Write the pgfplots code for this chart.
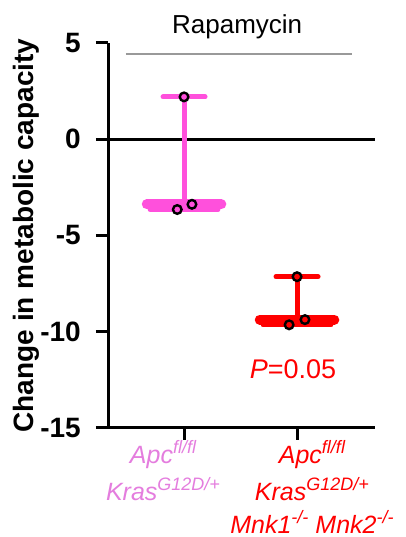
\documentclass[border=0pt]{standalone}
\usepackage{pgfplots}
\pgfplotsset{compat=1.18}
\usepackage{fontspec}
\setmainfont{Liberation Sans}
\definecolor{mag}{RGB}{255,80,220}
\definecolor{maglab}{RGB}{228,125,222}
\definecolor{myred}{RGB}{255,0,0}
\newcommand\sups[1]{\raisebox{9.5pt}{\fontsize{18}{18}\selectfont #1}}
\begin{document}
\begin{tikzpicture}[x=1pt,y=1pt]
\path[use as bounding box] (0,0) rectangle (405,537);
\begin{axis}[
  at={(108pt,109pt)}, anchor=south west,
  scale only axis, width=267pt, height=385pt,
  xmin=0.327, xmax=2.69, ymin=-15, ymax=5,
  axis x line*=bottom, axis y line*=left,
  axis line style={line width=3pt, black},
  xtick={1,2}, xticklabels={},
  ytick={-15,-10,-5,0,5}, yticklabels={-15,-10,-5,0,5},
  tick align=outside, major tick length=12pt,
  tick style={line width=3pt, black},
  yticklabel style={font=\bfseries\fontsize{28}{30}\selectfont, anchor=east, inner sep=1pt, xshift=-14pt},
  clip=false,
]
% zero line
\addplot[black, line width=3pt, forget plot] coordinates {(0.327,0) (2.69,0)};
% Rapamycin bar
\addplot[gray!80, line width=1.8pt, forget plot] coordinates {(0.486,4.43) (2.486,4.43)};
% Magenta group: range line, caps, median
\addplot[mag, line width=5pt, forget plot] coordinates {(1,2.2) (1,-3.65)};
\addplot[mag, line width=5pt, line cap=round, forget plot] coordinates {(0.814,2.2) (1.186,2.2)};
\addplot[mag, line width=5pt, line cap=round, forget plot] coordinates {(0.70,-3.65) (1.30,-3.65)};
\addplot[mag, line width=10pt, line cap=round, forget plot] coordinates {(0.67,-3.38) (1.33,-3.38)};
% Red group
\addplot[myred, line width=5pt, forget plot] coordinates {(2,-7.14) (2,-9.64)};
\addplot[myred, line width=5pt, line cap=round, forget plot] coordinates {(1.814,-7.14) (2.186,-7.14)};
\addplot[myred, line width=5pt, line cap=round, forget plot] coordinates {(1.70,-9.64) (2.30,-9.64)};
\addplot[myred, line width=10pt, line cap=round, forget plot] coordinates {(1.67,-9.37) (2.33,-9.37)};
% points
\addplot[only marks, mark=*, mark size=4.3pt, mark options={draw=black, fill=mag, line width=2.4pt}] coordinates {(1,2.2) (1.07,-3.38) (0.94,-3.65)};
\addplot[only marks, mark=*, mark size=4.3pt, mark options={draw=black, fill=myred, line width=2.4pt}] coordinates {(2,-7.14) (2.07,-9.37) (1.93,-9.64)};
% texts
\node[anchor=base, font=\fontsize{26}{28}\selectfont] at (axis cs:1.47,5.47) {Rapamycin};
\node[anchor=base, text=myred, font=\fontsize{27}{29}\selectfont] at (axis cs:1.964,-12.45) {\textit{P}=0.05};
\node[xshift=-82pt, rotate=90, font=\bfseries\fontsize{28}{30}\selectfont] at (rel axis cs:0,0.5) {Change in metabolic capacity};
\node[anchor=base, text=maglab, font=\itshape\fontsize{25}{27}\selectfont] at (axis cs:0.814,-15) [yshift=-35pt] {Apc\sups{fl/fl}};
\node[anchor=base, text=maglab, font=\itshape\fontsize{25}{27}\selectfont] at (axis cs:0.814,-15) [yshift=-72pt] {Kras\sups{G12D/+}};
\node[anchor=base, text=myred, font=\itshape\fontsize{25}{27}\selectfont] at (axis cs:2.132,-15) [yshift=-35pt] {Apc\sups{fl/fl}};
\node[anchor=base, text=myred, font=\itshape\fontsize{25}{27}\selectfont] at (axis cs:2.132,-15) [yshift=-72pt] {Kras\sups{G12D/+}};
\node[anchor=base, text=myred, font=\itshape\fontsize{25}{27}\selectfont] at (axis cs:2.132,-15) [yshift=-105pt] {Mnk1\sups{-/-} Mnk2\sups{-/-}};
\end{axis}
\end{tikzpicture}
\end{document}
